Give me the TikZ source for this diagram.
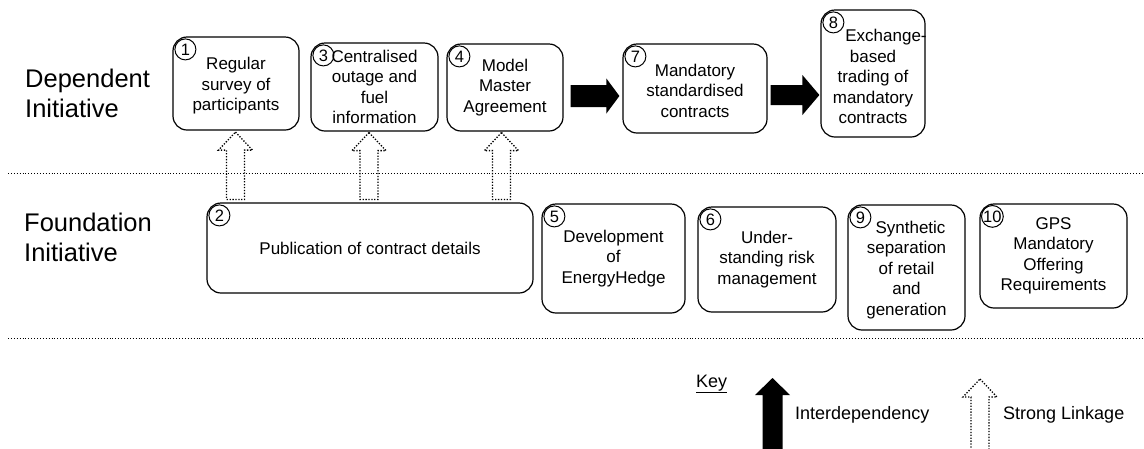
\documentclass[tikz,border=0pt]{standalone}
\usepackage{fontspec}
\setmainfont{Liberation Sans}
\usetikzlibrary{calc}

% Upward block arrow: #1 style, #2 tip, #3 base point, #4 half shaft width,
% #5 half head width, #6 head length
\newcommand\upblock[6]{%
  \path[#1] let \p1=(#2), \p2=(#3) in
    (\x1,\y1) -- (\x1+#5,\y1-#6) -- (\x1+#4,\y1-#6) -- (\x1+#4,\y2)
    -- (\x1-#4,\y2) -- (\x1-#4,\y1-#6) -- (\x1-#5,\y1-#6) -- cycle;}

% Rightward block arrow: #1 style, #2 start, #3 tip, #4 half shaft height,
% #5 half head height, #6 head length
\newcommand\rightblock[6]{%
  \path[#1] let \p1=(#2), \p2=(#3) in
    (\x1,\y1+#4) -- (\x2-#6,\y1+#4) -- (\x2-#6,\y1+#5) -- (\x2,\y1)
    -- (\x2-#6,\y1-#5) -- (\x2-#6,\y1-#4) -- (\x1,\y1-#4) -- cycle;}

% extra room above the first line of a box text
\newcommand\topgap[1]{\rule{0pt}{#1}}

\begin{document}
\begin{tikzpicture}[x=1pt,y=-1pt,
  box/.style={draw, line width=1.2pt, rounded corners=14pt, align=center,
    font=\fontsize{17}{20.5}\selectfont, inner sep=0pt},
  num/.style={draw, circle, line width=1pt, minimum size=21pt, inner sep=0pt,
    font=\fontsize{16.5}{16.5}\selectfont},
  rowlabel/.style={anchor=west, align=left, inner sep=0pt,
    font=\fontsize{25.5}{30}\selectfont},
  sep/.style={line width=0.9pt, dash pattern=on 0.9pt off 2pt},
  linkarrow/.style={draw, line width=1.3pt, dash pattern=on 1.3pt off 1.6pt},
  deparrow/.style={fill=black},
  keytext/.style={anchor=west, inner sep=0pt, font=\fontsize{18}{20}\selectfont}]

\useasboundingbox (0,0) rectangle (1144,448);

% row labels
\node[rowlabel] (dep) at (25,93) {Dependent\\Initiative};
\node[rowlabel] (fnd) at (24,237) {Foundation\\Initiative};

% row separators
\draw[sep] (8,173) -- (1144,173);
\draw[sep] (8,338) -- (1144,338);

% dependent initiatives
\node[box, minimum width=126pt, minimum height=93pt] (b1) at (236,83.5)
  {\topgap{17pt}Regular\\survey of\\participants};
\node[box, minimum width=127pt, minimum height=88pt] (b3) at (374.5,87)
  {Centralised\\outage and\\fuel\\information};
\node[box, minimum width=116pt, minimum height=87pt] (b4) at (505,87.5)
  {Model\\Master\\Agreement};
\node[box, minimum width=144pt, minimum height=89pt] (b7) at (695,88.5)
  {\topgap{17pt}Mandatory\\standardised\\contracts};
\node[box, minimum width=104pt, minimum height=127pt] (b8) at (873,73.5)
  {\makebox[0pt]{\hspace*{26pt}\topgap{19pt}Exchange-}\\based\\trading of\\mandatory\\contracts};

% foundation initiatives
\node[box, minimum width=326pt, minimum height=90pt] (b2) at (370,248)
  {Publication of contract details};
\node[box, minimum width=143pt, minimum height=109pt] (b5) at (613.5,258.5)
  {Development\\of\\EnergyHedge};
\node[box, minimum width=138pt, minimum height=105pt] (b6) at (767,259.5)
  {Under-\\standing risk\\management};
\node[box, minimum width=117pt, minimum height=125pt] (b9) at (906.5,267.5)
  {\makebox[0pt]{\hspace*{8pt}\topgap{17pt}Synthetic}\\separation\\of retail\\and\\generation};
\node[box, minimum width=147pt, minimum height=104pt] (b10) at (1053.5,256)
  {GPS\\Mandatory\\Offering\\Requirements};

% number badges
\foreach \b/\n in {b1/1,b2/2,b3/3,b4/4,b5/5,b6/6,b7/7,b8/8,b9/9,b10/10}
  \node[num] (n\n) at ($(\b.north west)+(13,13)$) {\n};

% strong linkages from publication of contract details
\coordinate (t1) at ($(b1.south)+(-0.5,1.5)$);
\coordinate (t3) at ($(b3.south)+(-5.5,1)$);
\coordinate (t4) at ($(b4.south)+(-3.5,1)$);
\foreach \t in {t1,t3,t4}{
  \coordinate (s\t) at ($(\t |- b2.north)+(0,-3)$);
  \upblock{linkarrow}{\t}{s\t}{9pt}{17pt}{18pt}
}

% interdependencies
\coordinate (a1s) at ($(b4.east)+(7,8.5)$);
\coordinate (a1e) at ($(b7.west |- a1s)+(-3,0)$);
\rightblock{deparrow}{a1s}{a1e}{11pt}{17.5pt}{13pt}
\coordinate (a2s) at ($(b7.east)+(3,6.5)$);
\coordinate (a2e) at ($(b8.west |- a2s)+(-1,0)$);
\rightblock{deparrow}{a2s}{a2e}{10pt}{20pt}{17pt}

% key
\node[keytext] (key) at (696,384) {\underline{Key}};
\coordinate (kd) at (772.5,378);
\coordinate (kdb) at (772.5,452);
\upblock{deparrow}{kd}{kdb}{10pt}{17.5pt}{17pt}
\node[keytext] (kdt) at (795,415) {Interdependency};
\coordinate (kl) at (980,379);
\coordinate (klb) at (980,452);
\upblock{linkarrow}{kl}{klb}{9pt}{17pt}{18pt}
\node[keytext] (klt) at (1003,415) {Strong Linkage};

\end{tikzpicture}
\end{document}
